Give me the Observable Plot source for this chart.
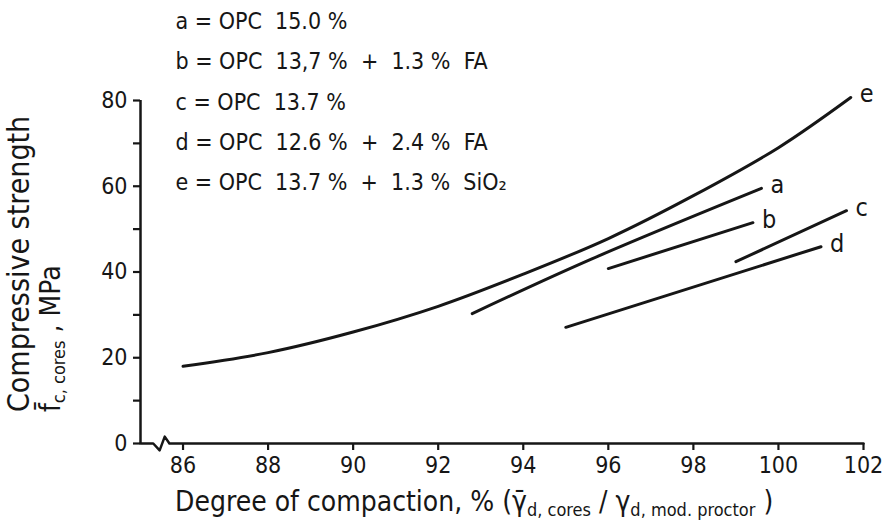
<!DOCTYPE html>
<html><head><meta charset="utf-8">
<script src="https://cdn.jsdelivr.net/npm/d3@7"></script>
<script src="https://cdn.jsdelivr.net/npm/@observablehq/plot@0.6"></script>
<style>body{margin:0;background:#fff}svg{display:block}</style>
</head><body><div id="chart"></div>
<script>
// ---- data ----
const seriesNames = ["a", "b", "c", "d", "e"];
const legendLabels = [
  "a = OPC  15.0 %",
  "b = OPC  13,7 %  +  1.3 %  FA",
  "c = OPC  13.7 %",
  "d = OPC  12.6 %  +  2.4 %  FA",
  "e = OPC  13.7 %  +  1.3 %  SiO₂"
];
const aX = [92.8, 95.6, 99.6];
const aY = [30.3, 43.0, 59.5];
const bX = [96.0, 99.4];
const bY = [40.8, 51.5];
const cX = [99.0, 101.6];
const cY = [42.4, 54.3];
const dX = [95.0, 101.0];
const dY = [27.1, 45.9];
const eX = [86, 88, 90, 92, 94, 96, 98, 100, 101.7];
const eY = [18.0, 21.2, 26.0, 32.0, 39.5, 47.8, 57.8, 69.0, 80.7];
const xTicks = [86, 88, 90, 92, 94, 96, 98, 100, 102];
const yTicks = [0, 20, 40, 60, 80];
const yMinorTicks = [10, 30, 50, 70];
const xAxisBreakX = [85, 85.3, 85.45, 85.57, 85.68, 102];
const xAxisBreakY = [0, 0, -1.6, 1.6, 0, 0];

// ---- build tables ----
const seriesX = {a: aX, b: bX, c: cX, d: dX, e: eX};
const seriesY = {a: aY, b: bY, c: cY, d: dY, e: eY};
const points = seriesNames.flatMap(s => seriesX[s].map((x, i) => ({s, x, y: seriesY[s][i]})));
const ends = seriesNames.map(s => ({s, x: seriesX[s].at(-1), y: seriesY[s].at(-1)}));
const axisLine = xAxisBreakX.map((x, i) => ({x, y: xAxisBreakY[i]}));
const allYTicks = [...yTicks, ...yMinorTicks].sort((p, q) => p - q);

const ink = "#161616";
const font = "'DejaVu Sans Condensed', 'DejaVu Sans', sans-serif";

const W = 889, H = 530, mL = 140, mR = 26, mT = 100, mB = 87;
const xDomain = [85, 102], yDomain = [0, 80];
const tickPx = 7;
const tickX = tickPx * (xDomain[1] - xDomain[0]) / (W - mL - mR);
const tickY = tickPx * (yDomain[1] - yDomain[0]) / (H - mT - mB);

const plot = Plot.plot({
  width: W, height: H,
  marginLeft: mL, marginRight: mR, marginTop: mT, marginBottom: mB,
  x: {domain: xDomain},
  y: {domain: yDomain},
  style: {fontFamily: font, fontSize: "22px", color: ink, background: "#fff", overflow: "visible"},
  marks: [
    Plot.axisX(xTicks, {tickSize: 0, tickPadding: 13, label: null, fontSize: 23}),
    Plot.axisY(yTicks, {tickSize: 0, tickPadding: 13, label: null, fontSize: 23}),
    Plot.ruleX(xTicks, {y1: yDomain[0], y2: yDomain[0] - tickY, stroke: ink, strokeWidth: 2.2}),
    Plot.ruleY(allYTicks, {x1: xDomain[0], x2: xDomain[0] - tickX, stroke: ink, strokeWidth: 2.2}),
    Plot.ruleX([xDomain[0]], {y1: yDomain[0], y2: yDomain[1], stroke: ink, strokeWidth: 2.5}),
    Plot.line(axisLine, {x: "x", y: "y", stroke: ink, strokeWidth: 2.5, curve: "linear"}),
    Plot.line(points, {x: "x", y: "y", z: "s", stroke: ink, strokeWidth: 3, curve: "catmull-rom"}),
    Plot.text(ends, {x: "x", y: "y", text: "s", dx: 9, dy: -3, textAnchor: "start", fontSize: 25, fill: ink}),
    Plot.text([legendLabels.join("\n")], {frameAnchor: "top-left", dx: 35, dy: -100, textAnchor: "start", lineAnchor: "top", lineHeight: 1.75, fontSize: 23, fill: ink})
  ]
});
document.getElementById("chart").appendChild(plot);

// ---- axis titles with subscripts ----
const svg = d3.select(plot);
svg.append("text")
  .attr("transform", "translate(20,412) rotate(-90)")
  .attr("text-anchor", "start").attr("dominant-baseline", "middle")
  .attr("font-family", font).attr("font-size", 30).attr("fill", ink)
  .text("Compressive strength");
const yl2 = svg.append("text")
  .attr("transform", "translate(52,412) rotate(-90)")
  .attr("text-anchor", "start").attr("dominant-baseline", "middle")
  .attr("font-family", font).attr("font-size", 28).attr("fill", ink);
yl2.append("tspan").text("f\u0304");
yl2.append("tspan").attr("font-size", 18).attr("dy", 8).text("c, cores");
yl2.append("tspan").attr("dy", -8).text(" , MPa");

const xl = svg.append("text")
  .attr("x", 175).attr("y", 503)
  .attr("text-anchor", "start").attr("dominant-baseline", "middle")
  .attr("font-family", font).attr("font-size", 28).attr("fill", ink);
xl.append("tspan").text("Degree of compaction, % (γ\u0304");
xl.append("tspan").attr("font-size", 18).attr("dy", 8).text("d, cores");
xl.append("tspan").attr("dy", -8).text(" / γ");
xl.append("tspan").attr("font-size", 18).attr("dy", 8).text("d, mod. proctor");
xl.append("tspan").attr("dy", -8).text(" )");
</script>
</body></html>
